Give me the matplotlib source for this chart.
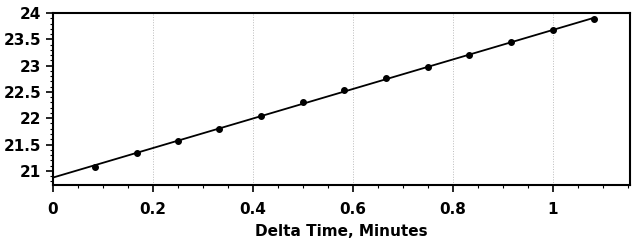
import matplotlib.pyplot as plt
import numpy as np
from matplotlib.ticker import MultipleLocator

# elapsed time (minutes) and measured values
delta_time = [0.083, 0.167, 0.25, 0.333, 0.417, 0.5, 0.583, 0.667, 0.75, 0.833, 0.917, 1.0, 1.083]
values = [21.08, 21.34, 21.57, 21.80, 22.05, 22.30, 22.53, 22.76, 22.97, 23.20, 23.45, 23.68, 23.89]

x_ticks = [0, 0.2, 0.4, 0.6, 0.8, 1]
x_labels = ['0', '0.2', '0.4', '0.6', '0.8', '1']
y_ticks = [21, 21.5, 22, 22.5, 23, 23.5, 24]
y_labels = ['21', '21.5', '22', '22.5', '23', '23.5', '24']


def main():
    fig = plt.figure(figsize=(6.35, 2.46), dpi=100)
    ax = fig.add_axes([0.0835, 0.248, 0.9085, 0.699])

    # linear fit through the points
    slope, icpt = np.polyfit(delta_time, values, 1)
    xs = np.array([0, delta_time[-1]])
    ax.plot(xs, icpt + slope * xs, color='black', lw=1.3)
    ax.plot(delta_time, values, 'o', color='black', ms=4)

    ax.set_xlim(0, 1.154)
    ax.set_ylim(20.73, 24.0)
    ax.set_xticks(x_ticks)
    ax.set_xticklabels(x_labels)
    ax.set_yticks(y_ticks)
    ax.set_yticklabels(y_labels)
    ax.xaxis.set_minor_locator(MultipleLocator(0.05))
    ax.yaxis.set_minor_locator(MultipleLocator(0.1))
    ax.tick_params(which='major', length=5, width=1.2, labelsize=11)
    ax.tick_params(axis='x', which='major', pad=7)
    ax.tick_params(which='minor', length=2.5, width=0.8)
    for lab in ax.get_xticklabels() + ax.get_yticklabels():
        lab.set_fontweight('bold')
    ax.grid(axis='x', which='major', color='#bbbbbb', ls=':', lw=0.7)
    for sp in ax.spines.values():
        sp.set_linewidth(1.5)

    ax.set_xlabel('Delta Time, Minutes', fontsize=11, fontweight='bold', labelpad=5)
    fig.savefig('out.png', dpi=100)


if __name__ == '__main__':
    main()
